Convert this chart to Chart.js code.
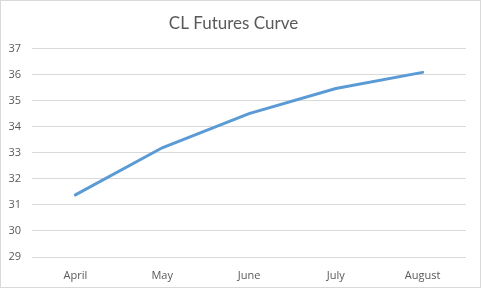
<!DOCTYPE html>
<html>
<head>
<meta charset="utf-8">
<script src="https://cdn.jsdelivr.net/npm/chart.js@4/dist/chart.umd.min.js"></script>
<style>
html,body{margin:0;padding:0;background:#fff;}
#wrap{position:absolute;left:0;top:0;width:481px;height:288px;border:1px solid #d9d9d9;box-sizing:border-box;background:#fff;}
#box{position:absolute;left:0;top:0;width:479px;height:286px;}
</style>
</head>
<body>
<div id="wrap"><div id="box"><canvas id="c"></canvas></div></div>
<script>
const categories = ["April", "May", "June", "July", "August"];
const prices = [31.38, 33.19, 34.5, 35.46, 36.08];
const yTicks = [29, 30, 31, 32, 33, 34, 35, 36, 37];
const chartTitle = "CL Futures Curve";

new Chart(document.getElementById('c'), {
  type: 'line',
  data: {
    labels: categories,
    datasets: [{
      label: 'CL',
      data: prices,
      borderColor: '#5b9bd5',
      backgroundColor: '#5b9bd5',
      borderWidth: 3,
      pointRadius: 0,
      tension: 0,
      borderCapStyle: 'round'
    }]
  },
  options: {
    responsive: true,
    maintainAspectRatio: false,
    animation: false,
    layout: { padding: { left: 0, right: 14, top: 0, bottom: 0 } },
    plugins: {
      legend: { display: false },
      tooltip: { enabled: false },
      title: {
        display: true,
        text: chartTitle,
        color: '#595959',
        font: { family: 'Lato, "Open Sans", sans-serif', size: 17, weight: 'normal' },
        padding: { top: 12, bottom: 15 }
      }
    },
    scales: {
      x: {
        offset: true,
        grid: { display: false },
        border: { display: false },
        ticks: { color: '#595959', font: { family: '"Open Sans", sans-serif', size: 11 }, padding: 4, maxRotation: 0 },
        afterFit: s => { s.height = 30; }
      },
      y: {
        min: 29, max: 37,
        afterBuildTicks: s => { s.ticks = yTicks.map(v => ({ value: v })); },
        grid: { color: '#d9d9d9', drawTicks: false },
        border: { display: false },
        ticks: { color: '#595959', font: { family: '"Open Sans", sans-serif', size: 11 }, padding: 11 },
        afterFit: s => { s.width = 31; }
      }
    }
  }
});
</script>
</body>
</html>
